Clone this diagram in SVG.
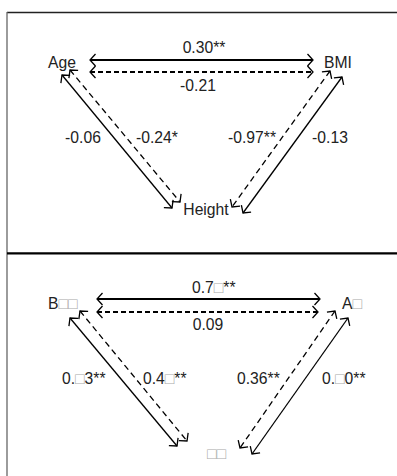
<svg xmlns="http://www.w3.org/2000/svg" width="397" height="476" viewBox="0 0 397 476">
<style>
text{font-family:"Liberation Sans",Arial,sans-serif;font-size:15.7px;fill:#222}
.t{fill:#aaa}
.m{text-anchor:middle}
.h{stroke:#000;stroke-width:2;fill:none}
.d{stroke:#000;stroke-width:1.3;fill:none}
.dash{stroke-dasharray:5 3}
.ddash{stroke-dasharray:6 4}
.hd{stroke:#000;stroke-width:1.3;fill:none}
</style>
<defs>
<marker id="a" viewBox="-8 -8 10 16" refX="0" refY="0" markerWidth="10" markerHeight="16" markerUnits="userSpaceOnUse" orient="auto-start-reverse">
<path class="hd" d="M-5.5,-6 L0,0 L-5.5,6"/>
</marker>
</defs>
<g id="frame">
<line x1="7" y1="12.5" x2="397" y2="12.5" stroke="#222" stroke-width="1.3"/>
<line x1="7" y1="12" x2="7" y2="476" stroke="#666" stroke-width="1.3"/>
<line x1="7" y1="253.3" x2="397" y2="253.3" stroke="#000" stroke-width="2.2"/>
</g>
<g id="connectors">
<line class="h" x1="90" y1="60" x2="313" y2="60" marker-start="url(#a)" marker-end="url(#a)"/>
<line class="h dash" x1="90" y1="72" x2="313" y2="72" marker-start="url(#a)" marker-end="url(#a)"/>
<line class="d" x1="62" y1="75" x2="172" y2="208" marker-start="url(#a)" marker-end="url(#a)"/>
<line class="d ddash" x1="70" y1="70" x2="180" y2="202" marker-start="url(#a)" marker-end="url(#a)"/>
<line class="d ddash" x1="330" y1="71" x2="232" y2="207" marker-start="url(#a)" marker-end="url(#a)"/>
<line class="d" x1="342" y1="77" x2="243" y2="213" marker-start="url(#a)" marker-end="url(#a)"/>
<line class="h" x1="97" y1="299" x2="320" y2="299" marker-start="url(#a)" marker-end="url(#a)"/>
<line class="h dash" x1="97" y1="312" x2="318" y2="312" marker-start="url(#a)" marker-end="url(#a)"/>
<line class="d" x1="70" y1="318" x2="177" y2="446" marker-start="url(#a)" marker-end="url(#a)"/>
<line class="d ddash" x1="80" y1="311" x2="187" y2="441" marker-start="url(#a)" marker-end="url(#a)"/>
<line class="d ddash" x1="335" y1="311" x2="240" y2="448" marker-start="url(#a)" marker-end="url(#a)"/>
<line class="d" x1="348" y1="318" x2="252" y2="454" marker-start="url(#a)" marker-end="url(#a)"/>
</g>
<g id="labels">
<text class="m" x="204" y="53">0.30**</text>
<text class="m" x="198" y="91">-0.21</text>
<text class="m" x="83" y="143">-0.06</text>
<text class="m" x="157" y="143">-0.24*</text>
<text class="m" x="252" y="143">-0.97**</text>
<text class="m" x="330" y="143">-0.13</text>
<text x="192" y="293">0.7<tspan class="t">□</tspan>**</text>
<text class="m" x="208" y="330">0.09</text>
<text x="62" y="384">0.<tspan class="t">□</tspan>3**</text>
<text x="143" y="384">0.4<tspan class="t">□</tspan>**</text>
<text x="237" y="384">0.36**</text>
<text x="322" y="384">0.<tspan class="t">□</tspan>0**</text>
</g>
<g id="age"><text class="m" x="62" y="68">Age</text></g>
<g id="bmi"><text class="m" x="338" y="68">BMI</text></g>
<g id="height"><text class="m" x="206" y="215">Height</text></g>
<g id="b"><text x="48" y="309">B<tspan class="t">□□</tspan></text></g>
<g id="a2"><text x="342" y="309">A<tspan class="t">□</tspan></text></g>
<g id="c"><text class="t" x="207" y="459">□□</text></g>
</svg>
